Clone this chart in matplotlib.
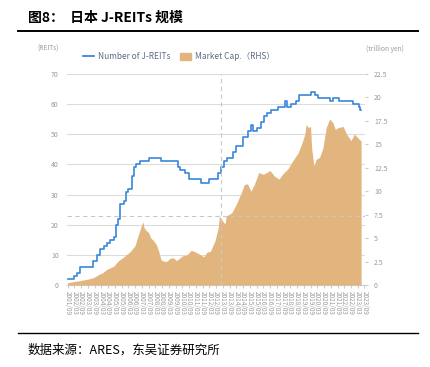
import matplotlib; matplotlib.use('agg')
import matplotlib.pyplot as plt
from matplotlib.patches import Patch
from matplotlib.lines import Line2D

plt.rcParams['font.family'] = ['Noto Sans CJK SC', 'DejaVu Sans']

# number of J-REITs (step line, left axis)
reit_dates = ["2001/09", "2002/03", "2002/05", "2002/08", "2003/08", "2003/11", "2004/02",
              "2004/05", "2004/08", "2004/11", "2005/02", "2005/04", "2005/06", "2005/08",
              "2005/11", "2006/01", "2006/03", "2006/06", "2006/08", "2006/10", "2007/01",
              "2007/09", "2008/08", "2009/11", "2010/01", "2010/05", "2010/09", "2011/08",
              "2012/03", "2012/11", "2013/01", "2013/04", "2013/07", "2013/12", "2014/03",
              "2014/09", "2015/01", "2015/04", "2015/06", "2015/09", "2016/01", "2016/04",
              "2016/06", "2016/10", "2017/04", "2017/10", "2017/12", "2018/04", "2018/08",
              "2018/11", "2019/09", "2020/01", "2020/04", "2021/02", "2021/05", "2021/10",
              "2022/11", "2023/04", "2023/05", "2023/06"]
reit_count = [2, 3, 4, 6, 8, 10, 12,
              13, 14, 15, 16, 20, 22, 27,
              28, 31, 32, 36, 39, 40, 41,
              42, 41, 39, 38, 37, 35, 34,
              35, 37, 39, 41, 42, 44, 46,
              49, 51, 53, 51, 52, 54, 56,
              57, 58, 59, 61, 59, 60, 61,
              63, 64, 63, 62, 61, 62, 61,
              60, 59, 58, 58]

# market cap, trillion yen (area, right axis)
cap_dates = ["2001/09", "2002/06", "2003/02", "2003/08", "2004/01", "2004/04", "2004/08",
             "2005/02", "2005/06", "2005/12", "2006/05", "2006/09", "2006/11", "2007/02",
             "2007/04", "2007/05", "2007/07", "2007/09", "2007/11", "2008/01", "2008/04",
             "2008/06", "2008/08", "2008/10", "2009/01", "2009/04", "2009/07", "2009/10",
             "2010/03", "2010/07", "2010/11", "2011/04", "2011/10", "2012/01", "2012/04",
             "2012/08", "2012/11", "2012/12", "2013/03", "2013/05", "2013/06", "2013/11",
             "2014/03", "2014/08", "2014/10", "2015/01", "2015/04", "2015/07", "2015/11",
             "2016/03", "2016/09", "2017/01", "2017/05", "2017/08", "2018/01", "2018/05",
             "2018/10", "2019/01", "2019/04", "2019/05", "2019/07", "2019/09", "2019/10",
             "2019/12", "2020/02", "2020/05", "2020/08", "2020/11", "2021/02", "2021/05",
             "2021/07", "2021/10", "2022/02", "2022/05", "2022/09", "2022/12", "2023/03",
             "2023/06"]
cap_value = [0.25, 0.43, 0.6, 0.78, 1.14, 1.3, 1.67,
             2.0, 2.56, 3.1, 3.6, 4.2, 5.0, 6.1,
             6.75, 6.1, 5.8, 5.6, 5.0, 4.8, 4.3,
             3.6, 2.7, 2.56, 2.5, 2.85, 2.9, 2.6,
             3.1, 3.2, 3.7, 3.45, 3.0, 3.5, 3.6,
             4.7, 6.1, 7.36, 6.8, 6.5, 7.35, 7.7,
             8.6, 10.0, 10.7, 10.8, 10.0, 10.7, 12.0,
             11.8, 12.2, 11.6, 11.3, 11.8, 12.4, 13.2,
             14.1, 15.0, 16.1, 17.1, 16.8, 16.9, 14.6,
             12.7, 13.4, 13.6, 14.6, 16.8, 17.7, 17.3,
             16.6, 16.8, 16.9, 16.1, 15.4, 16.1, 15.7,
             15.35]

xtick_labels = ["2001/09", "2002/03", "2002/09", "2003/03", "2003/09", "2004/03", "2004/09",
                "2005/03", "2005/09", "2006/03", "2006/09", "2007/03", "2007/09", "2008/03",
                "2008/09", "2009/03", "2009/09", "2010/03", "2010/09", "2011/03", "2011/09",
                "2012/03", "2012/09", "2013/03", "2013/09", "2014/03", "2014/09", "2015/03",
                "2015/09", "2016/03", "2016/09", "2017/03", "2017/09", "2018/03", "2018/09",
                "2019/03", "2019/09", "2020/03", "2020/09", "2021/03", "2021/09", "2022/03",
                "2022/09", "2023/03", "2023/09"]

left_ticks = [0, 10, 20, 30, 40, 50, 60, 70]
right_ticks = [0, 2.5, 5, 7.5, 10, 12.5, 15, 17.5, 20, 22.5]
right_labels = ['0', '2.5', '5', '7.5', '10', '12.5', '15', '17.5', '20', '22.5']

abenomics = "2013/01"
cap_2007_level = 7.35


def idx(d):
    y, m = d.split('/')
    return (int(y) - 2001) * 12 + int(m) - 9


gray = '#9a9a9a'
blue = '#3a87d9'
tan = '#e2b57f'

fig = plt.figure(figsize=(4.31, 3.67), dpi=100)
ax = fig.add_axes([0.1555, 0.2234, 0.6915, 0.575])
ax2 = ax.twinx()
ax3 = ax.twinx()

# left axis: grid + labels
ax.set_ylim(0, 70)
ax.set_yticks(left_ticks)
ax.set_yticklabels([str(t) for t in left_ticks])
ax.grid(axis='y', color='#dcdcdc', lw=0.8)
ax.tick_params(axis='y', length=0, labelsize=5, labelcolor=gray, pad=6)
x_ticks = [idx(t) for t in xtick_labels]
ax.set_xticks(x_ticks)
ax.set_xticklabels(xtick_labels, rotation=-90, fontsize=4.6, color=gray)
ax.tick_params(axis='x', length=2.5, color='#cccccc', pad=2)
ax.set_xlim(-0.5, 264.5)
for s in ax.spines.values():
    s.set_visible(False)
ax.spines['bottom'].set_visible(True)
ax.spines['bottom'].set_color('#cccccc')

# right axis: market cap area
ax2.fill_between([idx(d) for d in cap_dates], cap_value, color=tan, lw=0, zorder=2)
ax2.axhline(cap_2007_level, color='#c8c8c8', ls=(0, (4, 3)), lw=0.8, zorder=3)
ax2.set_ylim(0, 22.5)
ax2.set_yticks(right_ticks)
ax2.set_yticklabels(right_labels)
ax2.tick_params(axis='y', length=2.5, color='#cccccc', labelsize=5, labelcolor=gray, pad=4)
for s in ax2.spines.values():
    s.set_visible(False)

# top layer: number of REITs
ax3.plot([idx(d) for d in reit_dates], reit_count, drawstyle='steps-post', color=blue, lw=1.2)
ax3.axvline(idx(abenomics), color='#c8c8c8', ls=(0, (4, 3)), lw=0.8)
ax3.set_ylim(0, 70)
ax3.set_yticks([])
for s in ax3.spines.values():
    s.set_visible(False)

# axis units
fig.text(0.112, 0.862, '(REITs)', fontsize=4.8, color=gray, ha='center')
fig.text(0.892, 0.862, '(trillion yen)', fontsize=4.8, color=gray, ha='center')

# legend
handles = [Line2D([], [], color=blue, lw=1.3),
           Patch(color=tan)]
leg = fig.legend(handles, ['Number of J-REITs', 'Market Cap.\uff08RHS\uff09'],
                 loc='center left', bbox_to_anchor=(0.175, 0.845), ncol=2, frameon=False,
                 fontsize=6, handlelength=1.3, handleheight=0.9, columnspacing=1.2,
                 handletextpad=0.5)
for t in leg.get_texts():
    t.set_color('#5c6c86')

# header and footer
fig.text(0.065, 0.952, '图8：  日本 J-REITs 规模', fontsize=10, fontweight='bold',
         va='center', ha='left')
fig.add_artist(Line2D([0.042, 0.97], [0.915, 0.915], color='black', lw=1.4))
fig.add_artist(Line2D([0.042, 0.97], [0.093, 0.093], color='black', lw=1.0))
fig.text(0.065, 0.047, '数据来源：ARES，东吴证券研究所', fontsize=9, va='center', ha='left')

plt.savefig('out.png', dpi=100)
